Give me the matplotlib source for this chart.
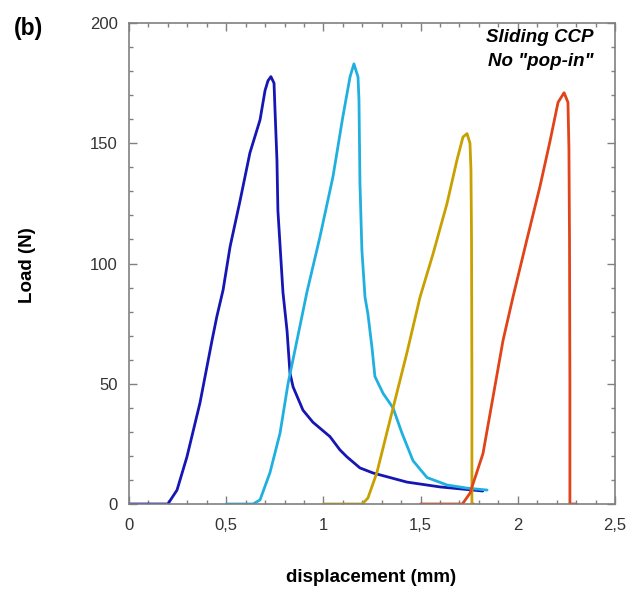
import numpy as np
import matplotlib
matplotlib.use("Agg")
from matplotlib import pyplot as plt
from matplotlib.ticker import MultipleLocator

plt.rcParams['font.family'] = ['Liberation Sans', 'DejaVu Sans']

# sample 1 (dark blue)
x1 = [0.0, 0.2, 0.247, 0.298, 0.365, 0.427, 0.452, 0.484, 0.520, 0.571, 0.622, 0.674, 0.700, 0.715, 0.730,
      0.746, 0.751, 0.761, 0.766, 0.782, 0.792, 0.813, 0.828, 0.844, 0.895, 0.946, 1.034, 1.085, 1.121,
      1.188, 1.255, 1.43, 1.60, 1.82]
y1 = [0.0, 0.0, 5.8, 19.6, 42, 68, 78, 89, 107, 126, 146, 159.7, 172, 176, 177.7,
      175, 164, 143, 122, 101, 88, 72, 54.5, 48.7, 39, 34, 28, 22.5, 19.6,
      15, 12.9, 9.1, 7.1, 5.4]

# sample 2 (light blue)
x2 = [0.5, 0.638, 0.674, 0.725, 0.777, 0.818, 0.864, 0.915, 0.982, 1.049, 1.10, 1.137, 1.157,
      1.178, 1.183, 1.188, 1.198, 1.214, 1.229, 1.250, 1.265, 1.307, 1.358, 1.404, 1.461, 1.533,
      1.636, 1.739, 1.842]
y2 = [0.0, 0.0, 1.7, 13, 29.5, 50, 68, 88, 111, 136, 161, 177.6, 183,
      177.6, 168, 133.5, 105.6, 86, 79, 65, 53, 46, 40, 29.5, 18, 11,
      7.9, 6.6, 5.8]

# sample 3 (olive)
x3 = [1.0, 1.2, 1.229, 1.275, 1.343, 1.43, 1.497, 1.564, 1.636, 1.687, 1.718, 1.739, 1.754, 1.759,
      1.762, 1.764, 1.764, 1.775]
y3 = [0.0, 0.0, 2.5, 13, 35, 63, 86, 104, 125, 143, 152.6, 154, 150, 139,
      110, 50, 0.0, 0.0]

# sample 4 (red)
x4 = [1.5, 1.715, 1.754, 1.821, 1.924, 1.975, 2.047, 2.114, 2.166, 2.207, 2.238, 2.258, 2.263,
      2.266, 2.268, 2.268, 2.30]
y4 = [0.0, 0.0, 4.5, 21, 68, 86, 110, 132, 151, 167, 171, 167, 148,
      110, 50, 0.0, 0.0]

colors = ['#1616b4', '#20b0e0', '#c8a000', '#e04418']

x_ticks = [0, 0.5, 1, 1.5, 2, 2.5]
x_ticklabels = ['0', '0,5', '1', '1,5', '2', '2,5']
y_ticks = [0, 50, 100, 150, 200]

fig = plt.figure(figsize=(6.3, 5.95), dpi=100)
ax = fig.add_axes([129 / 630, (595 - 504) / 595, (615 - 129) / 630, (504 - 23) / 595])

for xs, ys, c in zip([x1, x2, x3, x4], [y1, y2, y3, y4], colors):
    ax.plot(xs, ys, color=c, lw=2.0, solid_joinstyle='round', solid_capstyle='round')

ax.set_xlim(0, 2.5)
ax.set_ylim(0, 200)
ax.set_xticks(x_ticks)
ax.set_xticklabels(x_ticklabels)
ax.set_yticks(y_ticks)
ax.xaxis.set_minor_locator(MultipleLocator(0.1))
ax.yaxis.set_minor_locator(MultipleLocator(10))
ax.tick_params(which='both', direction='in', top=True, right=True, color='#808080',
               labelcolor='#333333', labelsize=12)
ax.tick_params(which='major', length=6, width=1)
ax.tick_params(which='minor', length=3, width=1)
ax.tick_params(axis='x', pad=10)
ax.tick_params(axis='y', pad=8)
for s in ax.spines.values():
    s.set_color('#808080')
    s.set_linewidth(1.2)

fig.text(27 / 630, 1 - 265 / 595, 'Load (N)', rotation=90, ha='center', va='center',
         fontsize=13.5, fontweight='bold')
fig.text(371 / 630, 1 - 578 / 595, 'displacement (mm)', ha='center', va='center',
         fontsize=13.5, fontweight='bold')
fig.text(14 / 630, 1 - 29 / 595, '(b)', ha='left', va='center', fontsize=16.5, fontweight='bold')
fig.text(593 / 630, 1 - 38 / 595, 'Sliding CCP', ha='right', va='center', fontsize=13.5,
         fontweight='bold', style='italic')
fig.text(593 / 630, 1 - 62 / 595, 'No "pop-in"', ha='right', va='center', fontsize=13.5,
         fontweight='bold', style='italic')

fig.savefig('out.png', dpi=100)
